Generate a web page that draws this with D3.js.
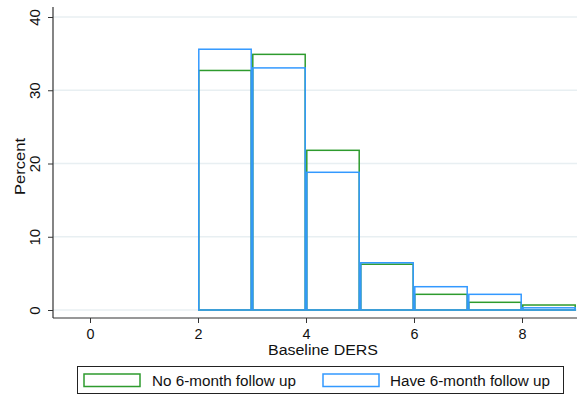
<!DOCTYPE html>
<html>
<head>
<meta charset="utf-8">
<script src="https://cdn.jsdelivr.net/npm/d3@7"></script>
<style>
  html, body { margin: 0; padding: 0; background: #fff; }
  svg { display: block; font-family: "Liberation Sans", Arial, sans-serif; }
</style>
</head>
<body>
<svg id="chart" width="577" height="394"></svg>
<script>
// Histogram of baseline DERS, percent per unit-wide bin, by follow-up status
const binStarts = [2, 3, 4, 5, 6, 7, 8];
const noFollowUp = [32.7, 34.9, 21.8, 6.25, 2.14, 1.05, 0.68];
const haveFollowUp = [35.6, 33.05, 18.8, 6.45, 3.18, 2.14, 0.3];
const xTicks = [0, 2, 4, 6, 8];
const yTicks = [0, 10, 20, 30, 40];
const seriesNames = ["No 6-month follow up", "Have 6-month follow up"];
const seriesColors = ["#2e9b2e", "#3399ff"];

const W = 577, H = 394;
const svg = d3.select("#chart");

const x = d3.scaleLinear().domain([0, 8]).range([90, 522]);
const y = d3.scaleLinear().domain([0, 40]).range([310, 17]);

const plotLeft = 53, plotTop = 7, axisY = 318;
const xMin = x.invert(plotLeft), xMax = x.invert(W);

// grid lines
svg.append("g")
  .selectAll("line")
  .data(yTicks)
  .join("line")
  .attr("x1", plotLeft).attr("x2", W)
  .attr("y1", d => y(d)).attr("y2", d => y(d))
  .attr("stroke", "#e8eff2").attr("stroke-width", 1.3);

// bars: green series first, blue drawn over it
function drawBars(values, color) {
  svg.append("g")
    .selectAll("rect")
    .data(binStarts.map((b, i) => ({ lo: b, hi: b + 1, v: values[i] })))
    .join("rect")
    .attr("x", d => x(d.lo) + 0.8)
    .attr("width", d => x(d.hi) - x(d.lo) - 1.6)
    .attr("y", d => y(d.v))
    .attr("height", d => y(0) - y(d.v))
    .attr("fill", "none")
    .attr("stroke", color)
    .attr("stroke-width", 1.5);
}
drawBars(noFollowUp, seriesColors[0]);
drawBars(haveFollowUp, seriesColors[1]);

// y axis with rotated tick labels
const yAxis = svg.append("g")
  .attr("transform", `translate(${plotLeft},0)`)
  .call(d3.axisLeft(y).tickValues(yTicks).tickSize(5).tickPadding(0).tickFormat(d3.format("d")));
yAxis.select(".domain").attr("d", `M0,${plotTop}V${axisY}`).attr("stroke", "#333").attr("stroke-width", 1.2);
yAxis.selectAll(".tick line").attr("stroke", "#333");
yAxis.selectAll(".tick text")
  .attr("x", null).attr("dy", null)
  .attr("text-anchor", "middle")
  .attr("transform", "translate(-13,0) rotate(-90)")
  .attr("font-size", 15).attr("fill", "#111")
  .attr("font-family", "Liberation Sans, Arial, sans-serif");

// x axis
const xAxisScale = d3.scaleLinear().domain([xMin, xMax]).range([plotLeft, W]);
const xAxis = svg.append("g")
  .attr("transform", `translate(0,${axisY})`)
  .call(d3.axisBottom(xAxisScale).tickValues(xTicks).tickSize(5).tickPadding(6).tickFormat(d3.format("d")));
xAxis.select(".domain").attr("d", `M${plotLeft},0H${W}`).attr("stroke", "#333").attr("stroke-width", 1.2);
xAxis.selectAll(".tick line").attr("stroke", "#333");
xAxis.selectAll(".tick text")
  .attr("font-size", 14).attr("fill", "#111")
  .attr("textLength", 8).attr("lengthAdjust", "spacingAndGlyphs")
  .attr("font-family", "Liberation Sans, Arial, sans-serif");

// axis titles
svg.append("text")
  .attr("x", 323).attr("y", 355)
  .attr("text-anchor", "middle")
  .attr("font-size", 14).attr("fill", "#111")
  .attr("textLength", 110).attr("lengthAdjust", "spacingAndGlyphs")
  .text("Baseline DERS");

svg.append("text")
  .attr("transform", `translate(25,166.5) rotate(-90)`)
  .attr("text-anchor", "middle")
  .attr("font-size", 15).attr("fill", "#111")
  .attr("textLength", 57).attr("lengthAdjust", "spacingAndGlyphs")
  .text("Percent");

// legend
const legend = svg.append("g");
legend.append("rect")
  .attr("x", 77.5).attr("y", 366.5).attr("width", 486).attr("height", 27)
  .attr("fill", "#fff").attr("stroke", "#222").attr("stroke-width", 1);

const keyX = [84, 323];
const textX = [152, 390];
const textLen = [144, 160];
seriesNames.forEach((name, i) => {
  legend.append("rect")
    .attr("x", keyX[i]).attr("y", 374)
    .attr("width", 56).attr("height", 12.5)
    .attr("fill", "none").attr("stroke", seriesColors[i]).attr("stroke-width", 1.5);
  legend.append("text")
    .attr("x", textX[i]).attr("y", 385.5)
    .attr("font-size", 14).attr("fill", "#111")
    .attr("textLength", textLen[i]).attr("lengthAdjust", "spacingAndGlyphs")
    .text(name);
});
</script>
</body>
</html>
